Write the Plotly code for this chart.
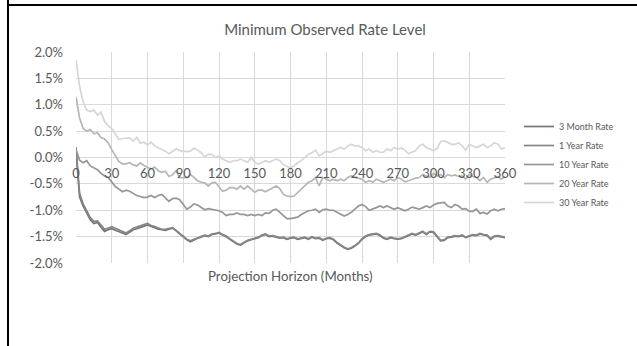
import plotly.graph_objects as go

months = list(range(0, 361, 3))

rate_3m = [0.12, -0.75, -0.92, -1.05, -1.18, -1.25, -1.23, -1.32, -1.40, -1.37,
           -1.35, -1.38, -1.40, -1.43, -1.46, -1.42, -1.37, -1.35, -1.32, -1.30,
           -1.28, -1.31, -1.33, -1.36, -1.37, -1.38, -1.36, -1.34, -1.39, -1.45,
           -1.50, -1.56, -1.60, -1.56, -1.53, -1.51, -1.48, -1.50, -1.46, -1.45,
           -1.43, -1.47, -1.50, -1.55, -1.60, -1.64, -1.66, -1.62, -1.58, -1.56,
           -1.54, -1.52, -1.48, -1.46, -1.50, -1.49, -1.51, -1.53, -1.52, -1.55,
           -1.53, -1.52, -1.55, -1.53, -1.52, -1.55, -1.51, -1.54, -1.53, -1.57,
           -1.54, -1.53, -1.56, -1.62, -1.67, -1.71, -1.74, -1.72, -1.68, -1.63,
           -1.55, -1.50, -1.47, -1.46, -1.45, -1.48, -1.53, -1.55, -1.52, -1.54,
           -1.55, -1.54, -1.51, -1.48, -1.45, -1.47, -1.44, -1.41, -1.46, -1.41,
           -1.42, -1.50, -1.58, -1.57, -1.52, -1.51, -1.49, -1.50, -1.48, -1.52,
           -1.50, -1.47, -1.48, -1.45, -1.47, -1.48, -1.55, -1.50, -1.49, -1.51,
           -1.52]

rate_1y = [0.20, -0.68, -0.88, -1.02, -1.14, -1.21, -1.20, -1.28, -1.36, -1.34,
           -1.31, -1.34, -1.37, -1.40, -1.43, -1.39, -1.34, -1.32, -1.29, -1.27,
           -1.25, -1.29, -1.31, -1.34, -1.36, -1.36, -1.35, -1.33, -1.38, -1.44,
           -1.49, -1.55, -1.58, -1.55, -1.52, -1.50, -1.47, -1.49, -1.45, -1.44,
           -1.42, -1.46, -1.49, -1.54, -1.59, -1.63, -1.65, -1.61, -1.57, -1.55,
           -1.53, -1.51, -1.47, -1.45, -1.49, -1.48, -1.50, -1.52, -1.51, -1.54,
           -1.52, -1.51, -1.54, -1.52, -1.51, -1.54, -1.50, -1.53, -1.52, -1.56,
           -1.53, -1.52, -1.55, -1.61, -1.66, -1.70, -1.73, -1.71, -1.67, -1.62,
           -1.54, -1.49, -1.46, -1.45, -1.44, -1.47, -1.52, -1.54, -1.51, -1.53,
           -1.54, -1.53, -1.50, -1.47, -1.44, -1.46, -1.43, -1.40, -1.45, -1.40,
           -1.41, -1.49, -1.57, -1.56, -1.51, -1.50, -1.48, -1.49, -1.47, -1.51,
           -1.49, -1.46, -1.47, -1.44, -1.46, -1.47, -1.54, -1.49, -1.48, -1.50,
           -1.51]

rate_10y = [0.15, -0.05, -0.10, -0.06, -0.16, -0.20, -0.23, -0.30, -0.35, -0.38,
            -0.46, -0.55, -0.60, -0.65, -0.62, -0.64, -0.68, -0.72, -0.74, -0.76,
            -0.75, -0.72, -0.76, -0.72, -0.70, -0.76, -0.83, -0.78, -0.77, -0.80,
            -0.90, -0.98, -0.94, -0.88, -0.90, -0.95, -0.99, -0.97, -0.98, -1.00,
            -1.01, -1.04, -1.10, -1.08, -1.08, -1.05, -1.08, -1.08, -1.10, -1.08,
            -1.10, -1.08, -1.10, -1.05, -1.06, -1.00, -0.98, -1.04, -1.10, -1.16,
            -1.16, -1.15, -1.13, -1.08, -1.04, -1.01, -1.00, -0.98, -1.04, -0.99,
            -0.98, -1.00, -1.00, -1.04, -1.08, -1.11, -1.08, -1.04, -0.98, -0.92,
            -0.89, -0.93, -1.00, -0.98, -0.95, -0.92, -0.95, -0.92, -0.95, -0.98,
            -0.95, -0.98, -1.01, -0.98, -0.94, -0.96, -0.98, -0.95, -0.92, -0.95,
            -0.90, -0.87, -0.86, -0.85, -0.92, -0.95, -0.89, -0.92, -0.98, -0.97,
            -1.02, -1.02, -0.98, -1.06, -1.04, -1.07, -1.01, -0.98, -1.01, -0.98,
            -0.97]

rate_20y = [1.15, 0.75, 0.55, 0.50, 0.53, 0.45, 0.47, 0.38, 0.35, 0.28,
            0.15, 0.02, -0.08, -0.12, -0.12, -0.10, -0.14, -0.16, -0.10, -0.15,
            -0.19, -0.22, -0.18, -0.25, -0.28, -0.26, -0.36, -0.33, -0.25, -0.38,
            -0.38, -0.38, -0.32, -0.38, -0.44, -0.47, -0.48, -0.54, -0.48, -0.47,
            -0.55, -0.64, -0.62, -0.57, -0.57, -0.60, -0.54, -0.60, -0.54, -0.60,
            -0.66, -0.62, -0.62, -0.65, -0.61, -0.58, -0.54, -0.59, -0.70, -0.73,
            -0.74, -0.73, -0.66, -0.60, -0.54, -0.47, -0.44, -0.38, -0.54, -0.38,
            -0.41, -0.44, -0.41, -0.44, -0.41, -0.44, -0.38, -0.35, -0.38, -0.40,
            -0.41, -0.47, -0.44, -0.47, -0.41, -0.44, -0.47, -0.44, -0.41, -0.44,
            -0.38, -0.41, -0.46, -0.44, -0.41, -0.39, -0.38, -0.32, -0.35, -0.38,
            -0.30, -0.35, -0.32, -0.38, -0.32, -0.35, -0.33, -0.36, -0.35, -0.41,
            -0.32, -0.36, -0.38, -0.44, -0.38, -0.47, -0.41, -0.38, -0.36, -0.41,
            -0.36]

rate_30y = [1.85, 1.35, 1.05, 0.90, 0.87, 0.90, 0.80, 0.86, 0.68, 0.60,
            0.55, 0.45, 0.34, 0.36, 0.37, 0.37, 0.31, 0.38, 0.27, 0.29,
            0.24, 0.29, 0.22, 0.19, 0.16, 0.12, 0.07, 0.12, 0.16, 0.13,
            0.12, 0.11, 0.12, 0.18, 0.14, 0.09, 0.01, 0.06, 0.06, 0.00,
            0.03, -0.03, -0.06, -0.09, -0.06, -0.06, -0.03, -0.06, -0.09, 0.00,
            -0.09, -0.13, -0.09, -0.06, -0.09, -0.06, -0.03, -0.06, -0.13, -0.17,
            -0.19, -0.16, -0.10, -0.06, 0.00, 0.06, 0.09, 0.14, 0.03, 0.08,
            0.12, 0.10, 0.13, 0.17, 0.19, 0.16, 0.22, 0.25, 0.22, 0.22,
            0.19, 0.13, 0.16, 0.10, 0.13, 0.10, 0.10, 0.16, 0.13, 0.19,
            0.16, 0.18, 0.14, 0.07, 0.10, 0.13, 0.22, 0.25, 0.19, 0.16,
            0.13, 0.17, 0.30, 0.32, 0.28, 0.25, 0.25, 0.28, 0.22, 0.14,
            0.25, 0.22, 0.19, 0.22, 0.25, 0.19, 0.22, 0.28, 0.25, 0.16,
            0.19]

series_names = ["3 Month Rate", "1 Year Rate", "10 Year Rate", "20 Year Rate", "30 Year Rate"]
series_values = [rate_3m, rate_1y, rate_10y, rate_20y, rate_30y]
series_colors = ["#767676", "#858585", "#969696", "#b6b6b6", "#d6d6d6"]

x_ticks = list(range(0, 361, 30))
y_ticks = [2.0, 1.5, 1.0, 0.5, 0.0, -0.5, -1.0, -1.5, -2.0]
y_tick_text = ["2.0%", "1.5%", "1.0%", "0.5%", "0.0%", "-0.5%", "-1.0%", "-1.5%", "-2.0%"]

TXT = "#595959"
GRID = "#d9d9d9"
FONT = "Lato, 'Open Sans', sans-serif"

fig = go.Figure()
for name, vals, col in zip(series_names, series_values, series_colors):
    fig.add_trace(go.Scatter(x=months, y=vals, mode="lines", name=name,
                             line=dict(color=col, width=1.7)))

L, R, T, B = 76, 132, 52, 83
W, H = 637, 346
pw = W - L - R
ph = H - T - B

def px_x(X):
    return (X - L) / pw

def px_y(Y):
    return (H - B - Y) / ph

fig.update_layout(
    width=W, height=H,
    margin=dict(l=L, r=R, t=T, b=B, autoexpand=False),
    paper_bgcolor="white", plot_bgcolor="white",
    font=dict(family=FONT, color=TXT, size=11),
    title=dict(text="Minimum Observed Rate Level", x=325 / W, xanchor="center",
               y=1 - 30 / H, yanchor="middle",
               font=dict(size=15, color=TXT, family=FONT)),
    showlegend=True,
    legend=dict(x=px_x(519), y=px_y(112), xanchor="left", yanchor="top",
                font=dict(size=9, color=TXT, family=FONT),
                bgcolor="rgba(0,0,0,0)", borderwidth=0, itemwidth=30,
                tracegroupgap=0),
    xaxis=dict(range=[0, 360], tickvals=x_ticks, showgrid=True, gridcolor=GRID,
               gridwidth=1, zeroline=False, showline=False, ticks="",
               anchor="free", position=0.5, ticklabelstandoff=6,
               tickfont=dict(size=13, color=TXT, family=FONT)),
    yaxis=dict(range=[-2, 2], tickvals=y_ticks, ticktext=y_tick_text,
               showgrid=True, gridcolor=GRID, gridwidth=1, zeroline=True,
               zerolinecolor=GRID, zerolinewidth=1, showline=False, ticks="",
               ticklabelstandoff=12,
               tickfont=dict(size=13, color=TXT, family=FONT)),
    annotations=[dict(text="Projection Horizon (Months)", xref="paper", yref="paper",
                      x=0.5, y=px_y(276), xanchor="center", yanchor="middle",
                      showarrow=False, font=dict(size=13.3, color=TXT, family=FONT))],
    shapes=[
        dict(type="line", xref="paper", yref="paper", x0=px_x(8), x1=px_x(W + 5),
             y0=px_y(5), y1=px_y(5), line=dict(color="black", width=2)),
        dict(type="line", xref="paper", yref="paper", x0=px_x(8), x1=px_x(8),
             y0=px_y(-5), y1=px_y(H + 5), line=dict(color="black", width=2)),
    ],
)

fig.write_html("out.html", config={"displayModeBar": False},
               post_script="document.body.style.margin='0';document.body.style.padding='0';")
